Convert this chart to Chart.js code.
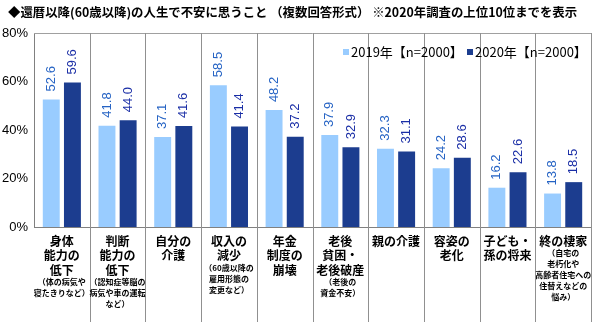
<!DOCTYPE html>
<html>
<head>
<meta charset="utf-8">
<script src="https://cdn.jsdelivr.net/npm/chart.js@4/dist/chart.umd.min.js"></script>
<style>
  html, body { margin: 0; padding: 0; background: #fff; }
  #wrap { width: 600px; height: 322px; }
</style>
</head>
<body>
<div id="wrap"><canvas id="chart"></canvas></div>
<script>
// Chart data
const titleText = '◆還暦以降(60歳以降)の人生で不安に思うこと （複数回答形式） ※2020年調査の上位10位までを表示';
const seriesNames = ['2019年【n=2000】', '2020年【n=2000】'];
const values2019 = [52.6, 41.8, 37.1, 58.5, 48.2, 37.9, 32.3, 24.2, 16.2, 13.8];
const values2020 = [59.6, 44.0, 41.6, 41.4, 37.2, 32.9, 31.1, 28.6, 22.6, 18.5];
const categoryMain = [
    ['身体', '能力の', '低下'],
    ['判断', '能力の', '低下'],
    ['自分の', '介護'],
    ['収入の', '減少'],
    ['年金', '制度の', '崩壊'],
    ['老後', '貧困・', '老後破産'],
    ['親の介護'],
    ['容姿の', '老化'],
    ['子ども・', '孫の将来'],
    ['終の棲家']
];
const categoryNotes = [
    ['（体の病気や', '寝たきりなど）'],
    ['（認知症等脳の', '病気や車の運転', 'など）'],
    [],
    ['（60歳以降の', '雇用形態の', '変更など）'],
    [],
    ['（老後の', '資金不安）'],
    [],
    [],
    [],
    ['（自宅の', '老朽化や', '高齢者住宅への', '住替えなどの', '悩み）']
];
const yTicks = [0, 20, 40, 60, 80];

const barColors = ['#99ccff', '#1c3d8f'];
const labelColors = ['#2563c4', '#1a2ea6'];
const fontSans = '"Liberation Sans", Arial, sans-serif';
const fontJp = '"Noto Sans CJK JP", sans-serif';

// Draws rotated value labels, category labels, separators, legend and title
const decorPlugin = {
    id: 'decor',
    afterDatasetsDraw(chart) {
        const ctx = chart.ctx;
        ctx.save();
        ctx.font = '13px ' + fontSans;
        ctx.textAlign = 'left';
        ctx.textBaseline = 'middle';
        chart.data.datasets.forEach((ds, di) => {
            const meta = chart.getDatasetMeta(di);
            meta.data.forEach((bar, i) => {
                ctx.save();
                ctx.translate(bar.x, bar.y - 8);
                ctx.rotate(-Math.PI / 2);
                ctx.fillStyle = labelColors[di];
                ctx.fillText(ds.data[i].toFixed(1), 0, 0);
                ctx.restore();
            });
        });
        ctx.restore();
    },
    afterDraw(chart) {
        const ctx = chart.ctx;
        const area = chart.chartArea;
        const xs = chart.scales.x;
        const n = categoryMain.length;
        const step = (area.right - area.left) / n;
        ctx.save();

        // box border (top and right)
        ctx.strokeStyle = '#a0a0a0';
        ctx.lineWidth = 1;
        ctx.beginPath();
        ctx.moveTo(area.left, area.top + 0.5);
        ctx.lineTo(area.right + 0.5, area.top + 0.5);
        ctx.lineTo(area.right + 0.5, area.bottom);
        ctx.stroke();

        // category separators, running down through label area
        ctx.strokeStyle = '#909090';
        for (let i = 1; i <= n; i++) {
            const x = Math.round(area.left + step * i) + 0.5;
            ctx.beginPath();
            ctx.moveTo(x, area.top);
            ctx.lineTo(x, chart.height);
            ctx.stroke();
        }

        // category labels
        ctx.fillStyle = '#000';
        ctx.textAlign = 'center';
        ctx.textBaseline = 'middle';
        categoryMain.forEach((lines, i) => {
            const cx = xs.getPixelForValue(i);
            let y = area.bottom + 14;
            ctx.font = 'bold 12px ' + fontJp;
            lines.forEach((t, k) => {
                ctx.fillText(t, cx, y);
                if (k < lines.length - 1) y += 14.5;
            });
            y += 12;
            ctx.font = 'bold 8px ' + fontJp;
            categoryNotes[i].forEach(t => {
                ctx.fillText(t, cx, y);
                y += 11;
            });
        });

        // legend
        ctx.font = '13px ' + fontJp;
        ctx.textAlign = 'left';
        let lx = 343;
        const ly = 52;
        seriesNames.forEach((name, di) => {
            ctx.fillStyle = barColors[di];
            ctx.fillRect(lx, ly - 3, 6, 6);
            ctx.fillStyle = '#000';
            ctx.fillText(name, lx + 8, ly);
            lx += 124;
        });

        // title
        ctx.font = 'bold 12.4px ' + fontJp;
        ctx.fillText(titleText, 8, 12);
        ctx.restore();
    }
};

new Chart(document.getElementById('chart'), {
    type: 'bar',
    data: {
        labels: categoryMain.map(l => l.join('')),
        datasets: [
            { label: seriesNames[0], data: values2019, backgroundColor: barColors[0] },
            { label: seriesNames[1], data: values2020, backgroundColor: barColors[1] }
        ]
    },
    options: {
        responsive: true,
        maintainAspectRatio: false,
        animation: false,
        layout: { padding: { top: 33, right: 9, left: 0, bottom: 0 } },
        plugins: {
            legend: { display: false },
            tooltip: { enabled: false }
        },
        datasets: {
            bar: { categoryPercentage: 0.76, barPercentage: 0.8 }
        },
        scales: {
            x: {
                afterFit: s => { s.height = 95; },
                grid: { display: false, drawTicks: false },
                border: { color: '#808080' },
                ticks: { display: false }
            },
            y: {
                min: 0,
                max: 80,
                afterFit: s => { s.width = 34; },
                afterBuildTicks: s => { s.ticks = yTicks.map(v => ({ value: v })); },
                grid: { display: false, drawOnChartArea: false, drawTicks: true, tickLength: 4, tickColor: '#808080' },
                border: { color: '#808080' },
                ticks: {
                    color: '#000',
                    padding: 2,
                    font: { family: fontSans, size: 13 },
                    callback: v => v + '%'
                }
            }
        }
    },
    plugins: [decorPlugin]
});
</script>
</body>
</html>
